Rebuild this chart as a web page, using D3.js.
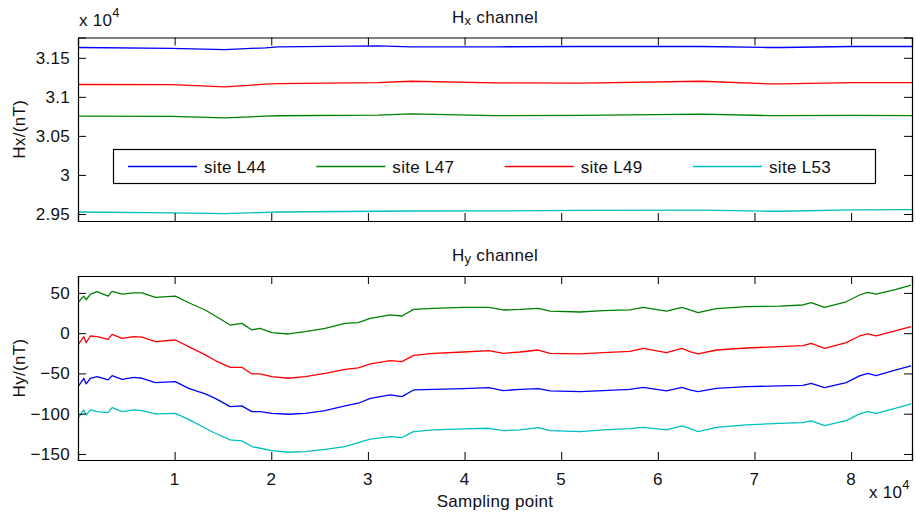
<!DOCTYPE html>
<html>
<head>
<meta charset="utf-8">
<script src="https://cdn.jsdelivr.net/npm/d3@7"></script>
<style>
  body { margin: 0; background: #fff; }
  svg { font-family: "Liberation Sans", Arial, Helvetica, sans-serif; }
  .axis path, .axis line { stroke: #000; }
  .lbl { font-size: 17px; fill: #111; letter-spacing: 0.3px; }
</style>
</head>
<body>
<div id="chart"></div>
<script>
// Hx channel (nT), sparse readings along the day
const hxSamples = [1, 9700, 15200, 19400, 20700, 31000, 34500, 43100, 52000, 64500, 71400, 72800, 80000, 86300];
const hxL44 = [31632, 31620, 31606, 31628, 31641, 31654, 31641, 31641, 31645, 31645, 31632, 31632, 31645, 31645];
const hxL47 = [30752, 30750, 30731, 30752, 30758, 30765, 30782, 30760, 30762, 30778, 30760, 30760, 30762, 30760];
const hxL49 = [31158, 31156, 31128, 31162, 31170, 31183, 31200, 31180, 31176, 31200, 31167, 31167, 31183, 31183];
const hxL53 = [29525, 29515, 29505, 29520, 29525, 29535, 29538, 29540, 29545, 29550, 29535, 29535, 29552, 29555];

// Hy channel (nT)
const hySamples = [1, 600, 840, 1290, 1980, 3110, 3530, 4560, 5760, 6630, 8000, 10070, 11450, 13170, 14200,
  15750, 16950, 17990, 18850, 20050, 21780, 23500, 25570, 27630, 29000, 30250, 32310, 33520, 34720, 36790,
  39880, 42500, 44020, 45740, 47630, 48840, 51940, 54350, 57100, 58480, 60890, 62500, 63300, 64160, 66060,
  69160, 72600, 75010, 75870, 77250, 79490, 80870, 81730, 82590, 84650, 86200];
const hyL44 = [-66.4, -56, -63, -56, -54, -58, -52.7, -57.3, -54.8, -56, -61.4, -60.2, -68.5, -75.5, -80.9,
  -91.2, -90.3, -97.4, -97.4, -99.5, -100.7, -99.5, -96.2, -90.3, -87, -80.9, -76.7, -78.8, -70.5, -69.7,
  -68.9, -67.6, -71.3, -69.7, -68.9, -71.7, -72.6, -71.3, -69.7, -67.2, -71.7, -67.2, -70.5, -72.6, -68.5,
  -66.4, -65.5, -64.8, -62.3, -67.6, -61.4, -53.1, -49.8, -52.7, -45.7, -40.7];
const hyL47 = [38, 46, 41.5, 48.6, 51.5, 46, 52, 48.6, 50, 50, 44.5, 46, 37.8, 28.8, 21.3,
  10.1, 12.2, 4, 6, 0.6, -1, 1.9, 6, 12.2, 13, 18.4, 22.6, 21.3, 29.5, 30.8,
  32, 32, 28.8, 29.5, 30.8, 27.5, 26.3, 27.9, 29, 32, 27.5, 32, 29, 25.4, 30.4,
  32.9, 33.7, 35, 37.8, 32, 39, 47.4, 50.6, 48.6, 54.3, 59.8];
const hyL49 = [-14.6, -4.3, -11.8, -3.5, -4.3, -7.7, -1.5, -6.4, -4.3, -5, -10.5, -8.5, -16.7, -27, -34,
  -42.4, -42.4, -50.6, -50.6, -54, -56, -54, -49.8, -44.9, -43, -38.2, -34, -35.4, -27.5, -25,
  -23.4, -21.7, -25, -23.4, -20.9, -25, -25.8, -24.2, -22.6, -18.8, -24.2, -18.8, -23, -25.8, -20.9,
  -18.4, -16.7, -15.5, -12.6, -18.8, -11.8, -3.5, -1, -3.5, 3.1, 8];
const hyL53 = [-105.7, -95.3, -101.5, -95.3, -97.4, -98.6, -92.4, -97.4, -95.3, -96.2, -100.3, -99.5, -107, -118.1, -124.3,
  -132.5, -133.7, -140.8, -142.9, -145.8, -147.9, -147, -144.2, -140.8, -136, -131.7, -128.4, -129.6, -122.2, -120.1,
  -118.9, -118.1, -121, -120.1, -117.3, -121, -122.2, -120.1, -118.5, -116.9, -120.1, -115.1, -118.1, -122.2, -116.9,
  -113.9, -111.9, -111, -109, -114.8, -108.6, -100.3, -97.4, -99.5, -93.2, -87.8];

const siteNames = ["site L44", "site L47", "site L49", "site L53"];
const siteColors = ["#0000ff", "#008000", "#ff0000", "#00bfbf"];
const xTicks = [10000, 20000, 30000, 40000, 50000, 60000, 70000, 80000];
const hxTicks = [29500, 30000, 30500, 31000, 31500];
const hyTicks = [-150, -100, -50, 0, 50];

const width = 916, height = 518;
const left = 78, right = 912;

const svg = d3.select("#chart").append("svg")
  .attr("width", width)
  .attr("height", height);

const x = d3.scaleLinear().domain([0, 86300]).range([left, right]);

function panel(opts) {
  const y = d3.scaleLinear().domain(opts.domain).range([opts.bottom, opts.top]);
  const g = svg.append("g");
  const clipId = "clip" + opts.id;
  svg.append("clipPath").attr("id", clipId)
    .append("rect")
    .attr("x", left).attr("y", opts.top)
    .attr("width", right - left).attr("height", opts.bottom - opts.top);

  const lineFn = d3.line()
    .x((d) => x(d[0]))
    .y((d) => y(d[1]));

  opts.series.forEach((vals, i) => {
    g.append("path")
      .datum(opts.samples.map((s, k) => [s, vals[k]]))
      .attr("clip-path", "url(#" + clipId + ")")
      .attr("d", lineFn)
      .attr("fill", "none")
      .attr("stroke", siteColors[i])
      .attr("stroke-width", 1.3)
      .attr("stroke-linejoin", "round");
  });

  // axes with inward ticks on all four sides
  const bottomAxis = d3.axisBottom(x).tickValues(xTicks).tickSize(-8).tickFormat(() => "");
  const topAxis = d3.axisTop(x).tickValues(xTicks).tickSize(-8).tickFormat(() => "");
  const leftAxis = d3.axisLeft(y).tickValues(opts.ticks).tickSize(-8).tickFormat(() => "");
  const rightAxis = d3.axisRight(y).tickValues(opts.ticks).tickSize(-8).tickFormat(() => "");

  g.append("g").attr("class", "axis").attr("transform", "translate(0," + opts.bottom + ")").call(bottomAxis);
  g.append("g").attr("class", "axis").attr("transform", "translate(0," + opts.top + ")").call(topAxis);
  g.append("g").attr("class", "axis").attr("transform", "translate(" + left + ",0)").call(leftAxis);
  g.append("g").attr("class", "axis").attr("transform", "translate(" + right + ",0)").call(rightAxis);
  g.selectAll(".axis path").attr("stroke-width", 1.2);
  g.selectAll(".axis .tick line").attr("stroke-width", 1);

  // tick labels placed from the same scales
  g.selectAll(".ylab")
    .data(opts.ticks)
    .join("text")
    .attr("class", "lbl")
    .attr("x", left - 8)
    .attr("y", (d) => y(d) + 6)
    .attr("text-anchor", "end")
    .text(opts.format);
  if (opts.xLabels) {
    g.selectAll(".xlab")
      .data(xTicks)
      .join("text")
      .attr("class", "lbl")
      .attr("x", (d) => x(d))
      .attr("y", opts.bottom + 25)
      .attr("text-anchor", "middle")
      .text((d) => d / 10000);
  }

  // title with subscript
  const t = g.append("text")
    .attr("class", "lbl")
    .attr("x", (left + right) / 2)
    .attr("y", opts.top - 15)
    .attr("text-anchor", "middle");
  t.append("tspan").text("H");
  t.append("tspan").attr("font-size", 13).attr("dy", 2).text(opts.sub);
  t.append("tspan").attr("dy", -2).text(" channel");

  // y label
  g.append("text")
    .attr("class", "lbl")
    .attr("transform", "translate(25," + (opts.top + opts.bottom) / 2 + ") rotate(-90)")
    .attr("text-anchor", "middle")
    .text(opts.ylabel);

  return { y: y, g: g };
}

const hxPanel = panel({
  id: 1, top: 37.5, bottom: 221, domain: [29410, 31760],
  samples: hxSamples, series: [hxL44, hxL47, hxL49, hxL53],
  ticks: hxTicks, format: (d) => d3.format("~g")(d / 10000),
  sub: "x", ylabel: "Hx/(nT)", xLabels: false
});

const hyPanel = panel({
  id: 2, top: 276, bottom: 460, domain: [-157.5, 71],
  samples: hySamples, series: [hyL44, hyL47, hyL49, hyL53],
  ticks: hyTicks, format: (d) => d < 0 ? "\u2212" + Math.abs(d) : d,
  sub: "y", ylabel: "Hy/(nT)", xLabels: true
});

// exponent labels
function expLabel(xp, yp) {
  const t = svg.append("text").attr("class", "lbl").attr("x", xp).attr("y", yp);
  t.append("tspan").text("x 10");
  t.append("tspan").attr("font-size", 13).attr("dy", -9).text("4");
}
expLabel(79, 26);
expLabel(869, 498);

svg.append("text")
  .attr("class", "lbl")
  .attr("x", (left + right) / 2)
  .attr("y", 507)
  .attr("text-anchor", "middle")
  .text("Sampling point");

// legend
const legend = svg.append("g");
legend.append("rect")
  .attr("x", 113.5).attr("y", 149.5)
  .attr("width", 762).attr("height", 34)
  .attr("fill", "#fff")
  .attr("stroke", "#000")
  .attr("stroke-width", 1.2);
const legendX = d3.scaleLinear().domain([0, 3]).range([128, 693]);
siteNames.forEach((name, i) => {
  const lx = legendX(i);
  legend.append("line")
    .attr("x1", lx).attr("x2", lx + 69)
    .attr("y1", 166.5).attr("y2", 166.5)
    .attr("stroke", siteColors[i])
    .attr("stroke-width", 1.3);
  legend.append("text")
    .attr("class", "lbl")
    .attr("x", lx + 76).attr("y", 173)
    .text(name);
});
</script>
</body>
</html>
